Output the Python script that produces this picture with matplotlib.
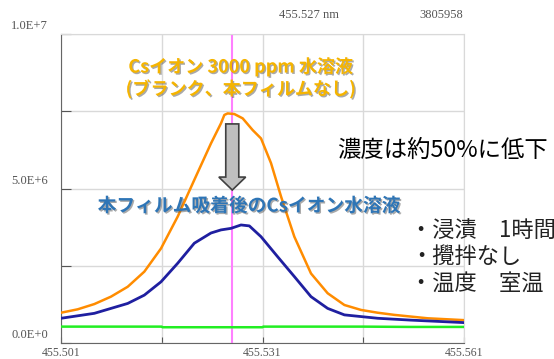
import matplotlib
matplotlib.use("Agg")
import matplotlib.pyplot as plt
import matplotlib.patheffects as pe
import matplotlib.transforms as mtransforms
from matplotlib.patches import FancyArrow

plt.rcParams["font.family"] = ["Noto Sans CJK JP", "DejaVu Sans"]

# spectrum around the Cs line (wavelength nm, intensity)
blank_wl = [455.50100, 455.50348, 455.50596, 455.50844, 455.51093, 455.51341, 455.51589,
            455.51837, 455.52085, 455.52333, 455.52482, 455.52532, 455.52581, 455.52681,
            455.52805, 455.52954, 455.53078, 455.53227, 455.53376, 455.53574, 455.53822,
            455.54070, 455.54319, 455.54567, 455.54815, 455.55063, 455.55559, 455.56100]
blank_int = [0.98e6, 1.09e6, 1.26e6, 1.50e6, 1.82e6, 2.31e6, 3.06e6,
             4.09e6, 5.28e6, 6.46e6, 7.11e6, 7.38e6, 7.43e6, 7.41e6,
             7.27e6, 6.89e6, 6.62e6, 5.82e6, 4.74e6, 3.44e6, 2.25e6,
             1.61e6, 1.23e6, 1.07e6, 0.98e6, 0.91e6, 0.80e6, 0.74e6]

film_wl = [455.50100, 455.50596, 455.51093, 455.51341, 455.51589, 455.51837, 455.52085,
           455.52333, 455.52482, 455.52631, 455.52780, 455.52904, 455.53078, 455.53326,
           455.53574, 455.53822, 455.54070, 455.54319, 455.54815, 455.55311, 455.56100]
film_int = [0.80e6, 0.96e6, 1.28e6, 1.55e6, 1.98e6, 2.58e6, 3.23e6,
            3.56e6, 3.66e6, 3.71e6, 3.82e6, 3.79e6, 3.44e6, 2.79e6,
            2.15e6, 1.50e6, 1.12e6, 0.91e6, 0.80e6, 0.74e6, 0.66e6]

base_wl = [455.5010, 455.5160, 455.5161, 455.5310, 455.5311, 455.5460, 455.5530, 455.5610]
base_int = [0.53e6, 0.53e6, 0.51e6, 0.51e6, 0.53e6, 0.53e6, 0.52e6, 0.52e6]

peak_wl = 455.5265
xticks = [455.501, 455.516, 455.531, 455.546, 455.561]
xtick_labels = ["455.501", "", "455.531", "", "455.561"]
yticks = [0, 2.5e6, 5.0e6, 7.5e6, 1.0e7]
ytick_labels = ["0.0E+0", "", "5.0E+6", "", "1.0E+7"]

fig = plt.figure(figsize=(5.54, 3.59), dpi=100)
ax = fig.add_axes([61 / 554, 16 / 359, 403 / 554, 309 / 359])

ax.set_xlim(455.501, 455.561)
ax.set_ylim(0, 1.0e7)

grid_col = "#d9d9d9"
ax.set_xticks(xticks)
ax.set_xticklabels(xtick_labels, family="Liberation Serif", fontsize=8.5, color="#555555")
ax.set_yticks(yticks)
ax.set_yticklabels([])
ax.tick_params(axis="x", direction="in", length=4, pad=3, color="#555555")
ax.tick_params(axis="y", direction="in", length=7, color="#555555")
ax.grid(True, color=grid_col, linewidth=1)
ax.set_axisbelow(True)
for side in ["top", "right"]:
    ax.spines[side].set_color(grid_col)
for side in ["left", "bottom"]:
    ax.spines[side].set_color("#666666")

# y labels sit a bit above their grid lines
ylab_tr = mtransforms.offset_copy(ax.get_yaxis_transform(), fig=fig, x=-13, y=8, units="dots")
for val, lab in zip(yticks, ytick_labels):
    if lab:
        ax.text(0, val, lab, transform=ylab_tr, ha="right", va="center",
                family="Liberation Serif", fontsize=9, color="#555555")

ax.axvline(peak_wl, color="#ff80ff", linewidth=1.5, zorder=2)
ax.plot(base_wl, base_int, color="#22ee22", linewidth=1.8, zorder=3)
ax.plot(blank_wl, blank_int, color="#ff8c00", linewidth=1.8, zorder=3)
ax.plot(film_wl, film_int, color="#1f1fa0", linewidth=2.0, zorder=3)

arrow = FancyArrow(peak_wl, 7.09e6, 0, -2.14e6, width=0.00194, head_width=0.0040,
                   head_length=0.42e6, length_includes_head=True,
                   facecolor="#bfbfbf", edgecolor="#404040", linewidth=1.2, zorder=4)
ax.add_patch(arrow)

shadow = [pe.withSimplePatchShadow(offset=(1, -1), shadow_rgbFace="#555555", alpha=0.5)]
ax.text(455.5277, 8.93e6, "Csイオン 3000 ppm 水溶液", ha="center", va="center",
        fontsize=13, fontweight="bold", color="#f5b400", path_effects=shadow, zorder=5)
ax.text(455.5277, 8.22e6, "(ブランク、本フィルムなし)", ha="center", va="center",
        fontsize=13, fontweight="bold", color="#f5b400", path_effects=shadow, zorder=5)
ax.text(455.5290, 4.43e6, "本フィルム吸着後のCsイオン水溶液", ha="center", va="center",
        fontsize=13.5, fontweight="bold", color="#2e75b6", path_effects=shadow, zorder=5)

fig.text(337 / 554, 1 - 150 / 359, "濃度は約50%に低下", ha="left", va="center",
         fontsize=16.8, color="black")
bullets = ["・浸漬　1時間", "・攪拌なし", "・温度　室温"]
for text, ypx in zip(bullets, [230, 256, 283]):
    fig.text(410 / 554, 1 - ypx / 359, text, ha="left", va="center",
             fontsize=16, color="#222222")

fig.text(309 / 554, 1 - 15 / 359, "455.527 nm", ha="center", va="center",
         family="Liberation Serif", fontsize=9, color="#555555")
fig.text(463 / 554, 1 - 15 / 359, "3805958", ha="right", va="center",
         family="Liberation Serif", fontsize=9, color="#555555")

fig.savefig("out.png", dpi=100)
